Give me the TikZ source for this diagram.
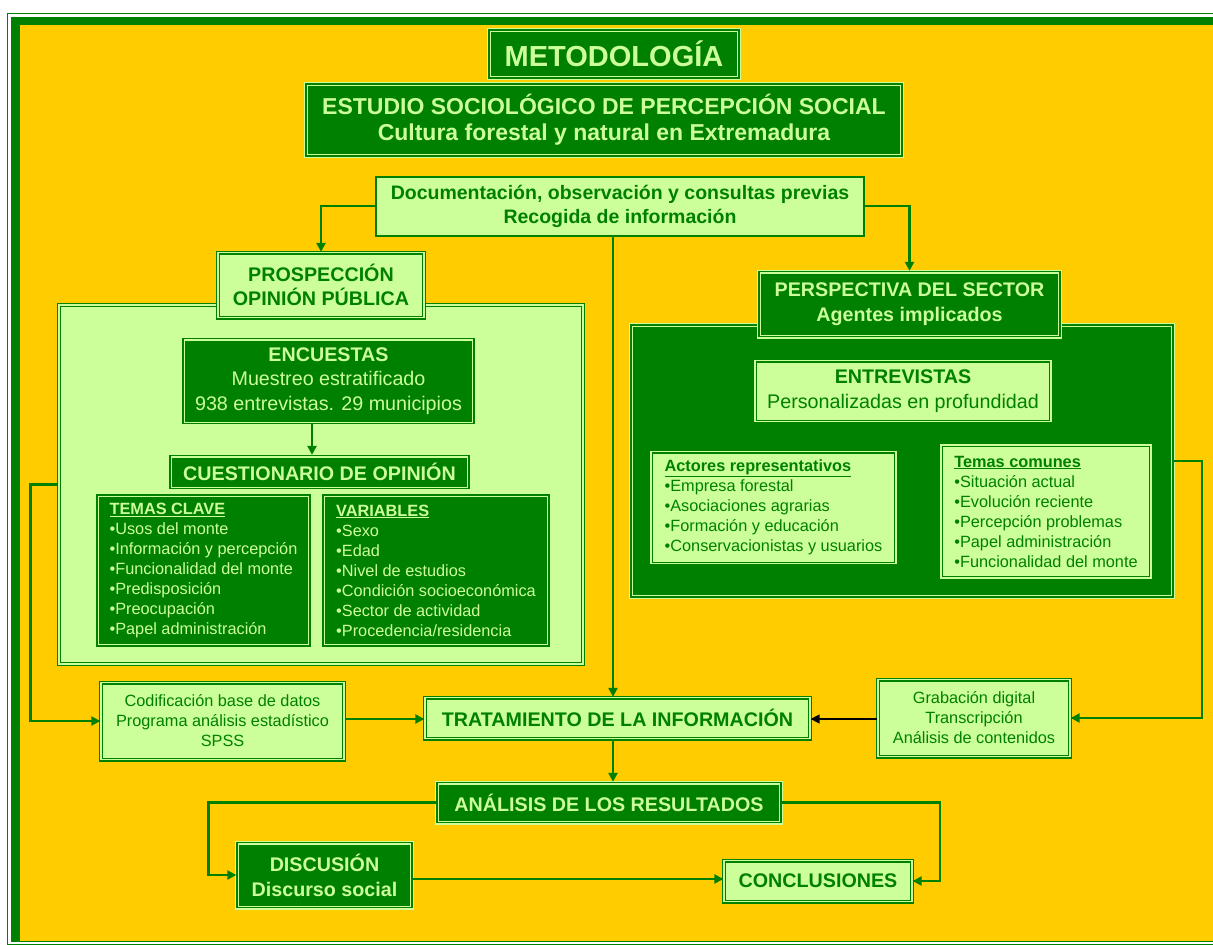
\documentclass[tikz,border=0pt]{standalone}
\usepackage{fontspec}
\setmainfont{Liberation Sans}
\usetikzlibrary{arrows.meta,calc}
\definecolor{dg}{HTML}{008000}
\definecolor{lg}{HTML}{CCFF99}
\definecolor{yb}{HTML}{FFCC00}
\begin{document}
\begin{tikzpicture}[x=1pt,y=-1pt,
  base/.style={line width=1.3pt, double distance=1.4pt, inner sep=0pt, align=center},
  dbox/.style={base, fill=dg, draw=lg, double=dg, text=lg},
  lbox/.style={base, fill=lg, draw=dg, double=lg, text=dg},
  sz/.style 2 args={minimum width=#1pt, minimum height=#2pt},
  fH/.style={font=\fontsize{19.7}{24.5}\selectfont\bfseries},
  fHH/.style={font=\fontsize{19.7}{25}\selectfont\bfseries},
  fR/.style={font=\fontsize{19.7}{24.5}\selectfont},
  fS/.style={font=\fontsize{16.3}{20}\selectfont},
  conn/.style={draw=dg, line width=2.3pt, -{Triangle[length=9pt,width=9pt]}},
  bconn/.style={draw=black, line width=1.4pt, -{Triangle[length=9pt,width=9pt]}}
]
\useasboundingbox (0,0) rectangle (1213,945);
\clip (0,0) rectangle (1213,945);
\fill[white] (0,0) rectangle (1213,945);
\draw[dg, line width=1.4pt] (7.7,13.7) rectangle (1240,944.2);
\fill[dg] (10.5,16.5) rectangle (1240,942.3);
\fill[yb] (20,25) rectangle (1240,940.7);

% header
\node[dbox, sz={250}{48}, font=\fontsize{29}{34}\selectfont\bfseries] (metod) at (614,54) {METODOLOGÍA};
\node[dbox, sz={596}{72}, font=\fontsize{23}{26}\selectfont\bfseries] (estudio) at (604,120)
  {ESTUDIO SOCIOLÓGICO DE PERCEPCIÓN SOCIAL\\Cultura forestal y natural en Extremadura};
\node[fill=lg, draw=dg, line width=2pt, sz={488}{59}, text=dg, align=center, inner sep=0pt,
  font=\fontsize{19.5}{24}\selectfont\bfseries] (doc) at (620,206)
  {Documentación, observación y consultas previas\\Recogida de información};

% containers
\node[lbox, sz={524}{359}] (leftc) at (321,484.5) {};
\node[dbox, sz={542}{272}] (rightc) at (902,461) {};
\node[lbox, sz={206}{65}, fH] (prosp) at (321,285) {PROSPECCIÓN\\OPINIÓN PÚBLICA};
\node[dbox, sz={301}{65}, fHH] (persp) at (909.5,304) {PERSPECTIVA DEL SECTOR\\Agentes implicados};

% left side
\node[dbox, sz={291}{85}, fR] (enc) at (328.5,381)
  {\textbf{ENCUESTAS}\\Muestreo estratificado\\938 entrevistas. 29 municipios};
\node[dbox, sz={299}{33}, fH] (cuest) at (319.5,472) {CUESTIONARIO DE OPINIÓN};
\node[dbox, sz={213}{151}, fS, align=left] (temas) at (203.5,570.5)
  {\textbf{\underline{TEMAS CLAVE}}\\•Usos del monte\\•Información y percepción\\•Funcionalidad del monte\\•Predisposición\\•Preocupación\\•Papel administración};
\node[dbox, sz={226}{151}, fS, align=left] (vars) at (436,570.5)
  {\textbf{\underline{VARIABLES}}\\•Sexo\\•Edad\\•Nivel de estudios\\•Condición socioeconómica\\•Sector de actividad\\•Procedencia/residencia};

% right side
\node[lbox, sz={296}{61}, font=\fontsize{19.7}{25}\selectfont] (entrev) at (903,391)
  {\textbf{ENTREVISTAS}\\Personalizadas en profundidad};
\node[lbox, sz={245}{112}, fS, align=left] (act) at (773.5,507.5)
  {\textbf{\underline{Actores representativos}}\\•Empresa forestal\\•Asociaciones agrarias\\•Formación y educación\\•Conservacionistas y usuarios};
\node[lbox, sz={210}{133}, fS, align=left] (tcom) at (1046,511.5)
  {\textbf{\underline{Temas comunes}}\\•Situación actual\\•Evolución reciente\\•Percepción problemas\\•Papel administración\\•Funcionalidad del monte};

% processing
\node[lbox, sz={243}{77}, fS] (codif) at (222.5,721)
  {Codificación base de datos\\Programa análisis estadístico\\SPSS};
\node[lbox, sz={385}{41}, fH] (trat) at (617.5,718) {TRATAMIENTO DE LA INFORMACIÓN};
\node[lbox, sz={192}{77}, fS] (grab) at (974,718)
  {Grabación digital\\Transcripción\\Análisis de contenidos};
\node[dbox, sz={344}{40}, fH] (anal) at (609,802.5) {ANÁLISIS DE LOS RESULTADOS};
\node[dbox, sz={175}{65}, fHH] (disc) at (324.5,875) {DISCUSIÓN\\Discurso social};
\node[lbox, sz={188}{41}, fH] (concl) at (818,881) {CONCLUSIONES};

% connectors
\coordinate (mx) at (613,0);
\coordinate (ex) at (312,0);
\coordinate (dy) at (0,879);
\coordinate (cy) at (0,719);
\draw[conn] (doc.west) -| (prosp.north);
\draw[conn] (doc.east) -| (persp.north);
\draw[conn] (doc.south -| mx) -- (trat.north -| mx);
\draw[conn] (enc.south -| ex) -- (cuest.north -| ex);
\draw[conn] (leftc.west) -- ++(-28,0) |- (codif.west);
\draw[conn] (codif.east |- cy) -- (trat.west |- cy);
\draw[conn] (rightc.east) -- ++(28,0) |- (grab.east);
\draw[bconn] (grab.west |- cy) -- (trat.east |- cy);
\draw[conn] (trat.south -| mx) -- (anal.north -| mx);
\draw[conn] (anal.west) -- ++(-228,0) |- (disc.west);
\draw[conn] (anal.east) -- ++(158,0) |- (concl.east);
\draw[conn] (disc.east |- dy) -- (concl.west |- dy);
\end{tikzpicture}
\end{document}
